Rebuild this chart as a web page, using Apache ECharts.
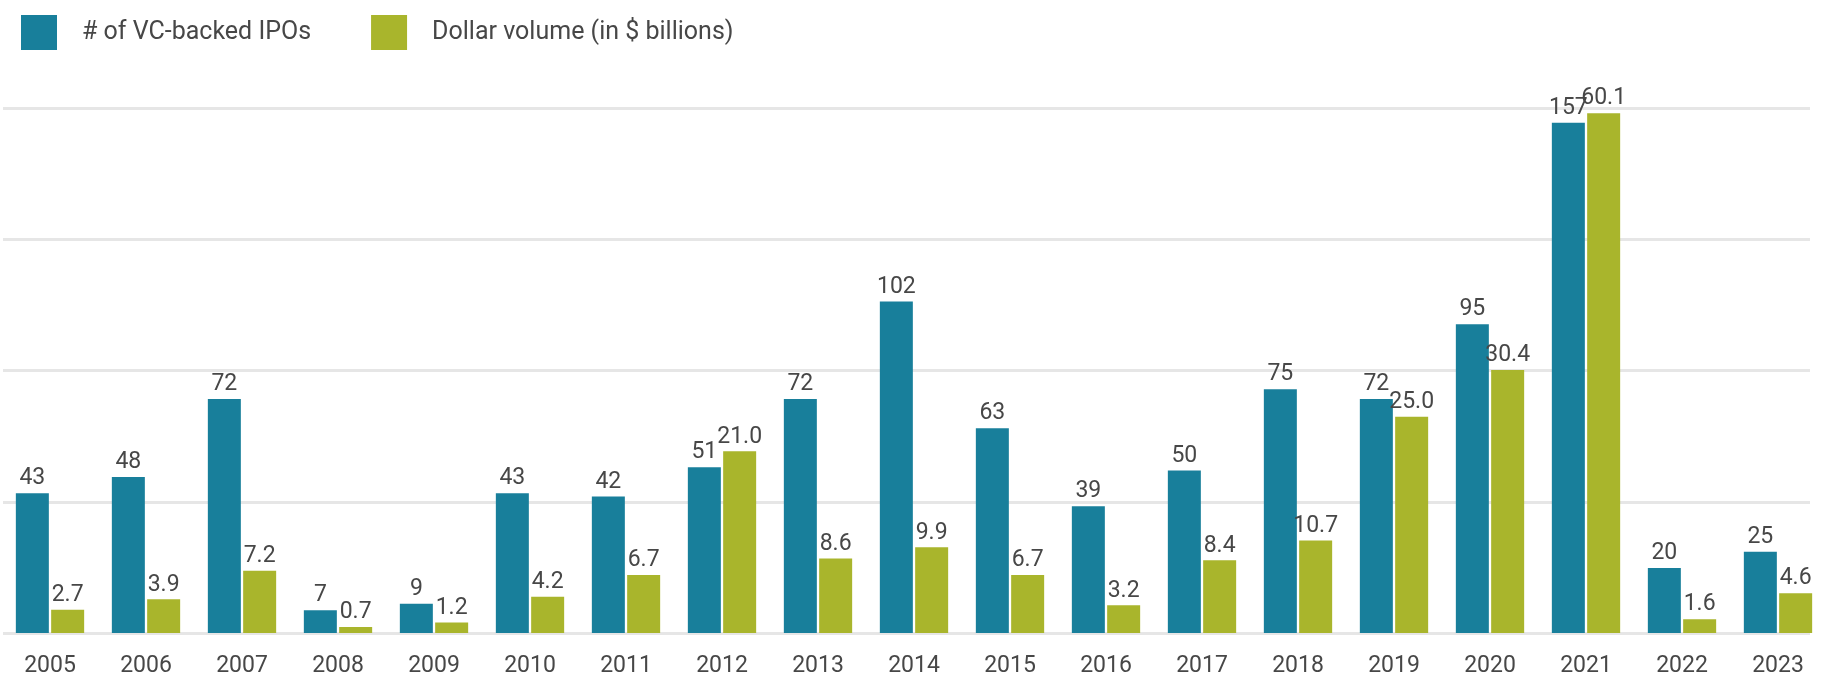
<!DOCTYPE html>
<html>
<head>
<meta charset="utf-8">
<script src="https://cdn.jsdelivr.net/npm/echarts@6/dist/echarts.min.js"></script>
<style>
  html, body { margin: 0; padding: 0; background: #ffffff; }
  #chart { width: 1828px; height: 680px; }
</style>
</head>
<body>
<div id="chart"></div>
<script>
// VC-backed IPOs per year: deal count and dollar volume
const years = ['2005','2006','2007','2008','2009','2010','2011','2012','2013','2014',
               '2015','2016','2017','2018','2019','2020','2021','2022','2023'];
const ipoCount = [43, 48, 72, 7, 9, 43, 42, 51, 72, 102, 63, 39, 50, 75, 72, 95, 157, 20, 25];
const dollarVolume = [2.7, 3.9, 7.2, 0.7, 1.2, 4.2, 6.7, 21.0, 8.6, 9.9, 6.7, 3.2, 8.4, 10.7, 25.0, 30.4, 60.1, 1.6, 4.6];
const seriesNames = ['# of VC-backed IPOs', 'Dollar volume (in $ billions)'];

const TEAL = '#187f9b';
const GREEN = '#a9b52c';
const TEXT = '#474747';
const FONT = 'Roboto';

const chart = echarts.init(document.getElementById('chart'), null, { renderer: 'canvas' });

chart.setOption({
  animation: false,
  backgroundColor: '#ffffff',
  textStyle: { fontFamily: FONT },
  legend: {
    left: 16,
    top: 10,
    itemWidth: 36,
    itemHeight: 35,
    itemGap: 60,
    icon: 'rect',
    textStyle: { fontFamily: FONT, fontSize: 25, color: TEXT, padding: [2, 0, 0, 20] },
    data: seriesNames
  },
  grid: [
    { left: 2, right: 2, top: 108, bottom: 47 },
    // grid used only for the horizontal guide lines
    { left: 3, right: 18, top: 108, bottom: 47 }
  ],
  xAxis: [
    {
      type: 'category',
      gridIndex: 0,
      data: years,
      axisLine: { show: false },
      axisTick: { show: false },
      axisLabel: { color: TEXT, fontFamily: FONT, fontSize: 23, margin: 22 }
    },
    {
      type: 'value',
      gridIndex: 1,
      show: false,
      min: 0,
      max: 1
    }
  ],
  yAxis: [
    {
      type: 'value',
      gridIndex: 0,
      min: 0,
      max: 161.5,
      show: false,
      splitLine: { show: false }
    },
    {
      type: 'value',
      gridIndex: 0,
      min: 0,
      max: 60.7,
      show: false,
      splitLine: { show: false }
    },
    {
      type: 'value',
      gridIndex: 1,
      min: 0,
      max: 4,
      interval: 1,
      axisLine: { show: false },
      axisTick: { show: false },
      axisLabel: { show: false },
      splitLine: { show: true, lineStyle: { color: '#e6e6e6', width: 3 } }
    }
  ],
  series: [
    {
      name: seriesNames[0],
      type: 'bar',
      xAxisIndex: 0,
      yAxisIndex: 0,
      data: ipoCount,
      barWidth: 33,
      barGap: '7%',
      itemStyle: { color: TEAL },
      label: {
        show: true,
        position: 'top',
        distance: 3,
        color: TEXT,
        fontFamily: FONT,
        fontSize: 23
      },
      z: 3
    },
    {
      name: seriesNames[1],
      type: 'bar',
      xAxisIndex: 0,
      yAxisIndex: 1,
      data: dollarVolume,
      barWidth: 33,
      barGap: '7%',
      itemStyle: { color: GREEN },
      label: {
        show: true,
        position: 'top',
        distance: 3,
        color: TEXT,
        fontFamily: FONT,
        fontSize: 23,
        formatter: p => p.value.toFixed(1)
      },
      z: 3
    }
  ]
});
</script>
</body>
</html>
